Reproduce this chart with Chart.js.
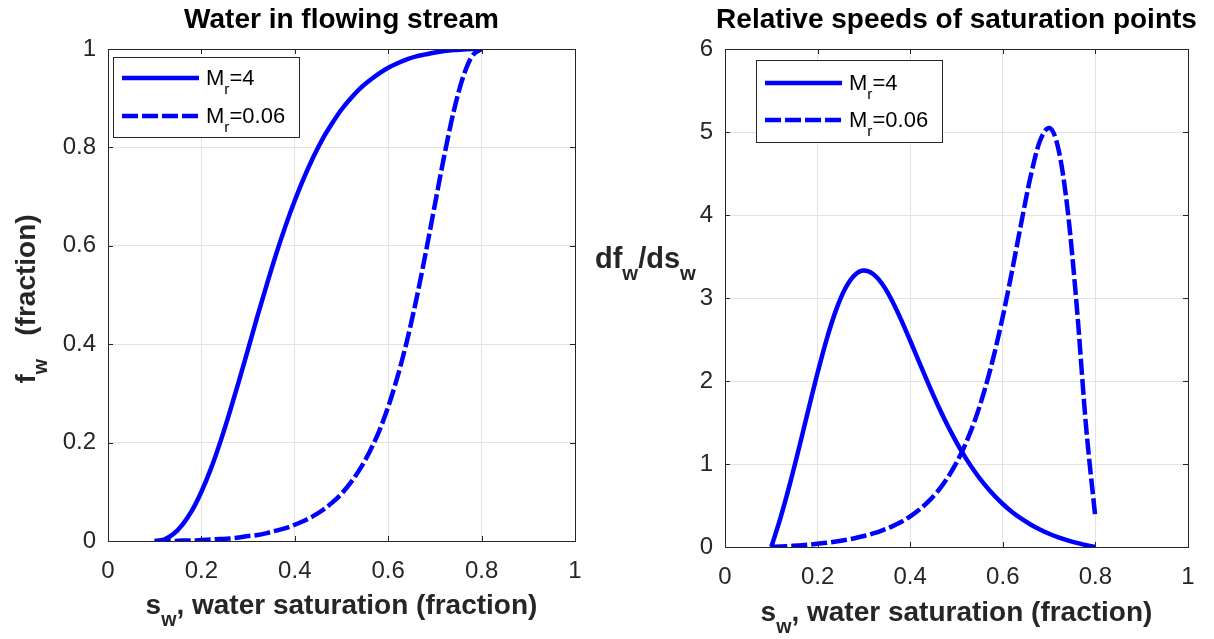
<!DOCTYPE html>
<html>
<head>
<meta charset="utf-8">
<script src="https://cdn.jsdelivr.net/npm/chart.js@4.4.0/dist/chart.umd.min.js"></script>
<style>
  body { margin: 0; background: #fff; width: 1214px; height: 639px; position: relative; overflow: hidden; }
  canvas { position: absolute; top: 0; }
  #leftChart { left: 0; }
  #rightChart { left: 580px; }
</style>
</head>
<body>
<canvas id="leftChart" width="600" height="639"></canvas>
<canvas id="rightChart" width="634" height="639"></canvas>
<script>
// water saturation samples (x values)
const swPoints = [0.10, 0.12, 0.14, 0.16, 0.18, 0.20, 0.22, 0.24, 0.26, 0.28,
                  0.30, 0.32, 0.34, 0.36, 0.38, 0.40, 0.42, 0.44, 0.46, 0.48,
                  0.50, 0.52, 0.54, 0.56, 0.58, 0.60, 0.62, 0.64, 0.66, 0.68,
                  0.70, 0.72, 0.74, 0.76, 0.78, 0.80];

// fractional flow
const fwMr4 = [0, 0.003, 0.014, 0.034, 0.062, 0.100, 0.146, 0.200, 0.260, 0.324,
               0.390, 0.457, 0.521, 0.583, 0.640, 0.692, 0.739, 0.781, 0.818, 0.849,
               0.877, 0.900, 0.920, 0.936, 0.950, 0.962, 0.971, 0.979, 0.985, 0.989,
               0.993, 0.996, 0.998, 0.999, 1.000, 1.000];
const fwMr006 = [0, 0, 0, 0.001, 0.001, 0.002, 0.003, 0.004, 0.005, 0.007,
                 0.010, 0.012, 0.016, 0.021, 0.026, 0.033, 0.041, 0.051, 0.063, 0.078,
                 0.096, 0.119, 0.147, 0.181, 0.222, 0.273, 0.334, 0.406, 0.490, 0.584,
                 0.684, 0.783, 0.872, 0.942, 0.986, 1.000];

// df/ds
const dfMr4 = [0, 0.354, 0.757, 1.196, 1.652, 2.100, 2.511, 2.857, 3.117, 3.276,
               3.331, 3.289, 3.165, 2.976, 2.743, 2.485, 2.219, 1.956, 1.705, 1.473,
               1.261, 1.071, 0.904, 0.757, 0.629, 0.518, 0.422, 0.341, 0.271, 0.211,
               0.160, 0.117, 0.080, 0.049, 0.022, 0];
const dfMr006 = [0, 0.005, 0.012, 0.019, 0.028, 0.039, 0.051, 0.066, 0.084, 0.106,
                 0.132, 0.163, 0.201, 0.246, 0.301, 0.369, 0.451, 0.552, 0.675, 0.828,
                 1.016, 1.248, 1.531, 1.877, 2.291, 2.777, 3.326, 3.908, 4.463, 4.888,
                 5.047, 4.799, 4.063, 2.883, 1.442, 0.350];

const seriesNames = ['4', '0.06'];
const xTicks = [0, 0.2, 0.4, 0.6, 0.8, 1];

const FONT = '"Liberation Sans", Arial, Helvetica, sans-serif';
const BLUE = '#0000ff';
const AXIS = '#262626';
const DASH = [16, 4];

function fontOf(size, bold) {
    return (bold ? 'bold ' : '') + size + 'px ' + FONT;
}

// matlab style tick text: 0, 0.2, ..., 1
function tickText(v) {
    return String(Number(v.toFixed(4)));
}

// draws text pieces, some as subscripts, starting at x (or centred on x)
function drawParts(ctx, parts, x, y, size, bold, center) {
    const widths = parts.map(p => {
        ctx.font = fontOf(p.sub ? size * 0.7 : size, bold);
        return ctx.measureText(p.t).width;
    });
    const total = widths.reduce((s, w) => s + w, 0);
    let cx = center ? x - total / 2 : x;
    ctx.textAlign = 'left';
    ctx.textBaseline = 'alphabetic';
    parts.forEach((p, i) => {
        ctx.font = fontOf(p.sub ? size * 0.7 : size, bold);
        ctx.fillText(p.t, cx, y + (p.sub ? size * 0.42 : 0));
        cx += widths[i];
    });
}

function framePlugin(cfg) {
    return {
        id: 'frame',
        afterDraw(chart) {
            const { ctx, chartArea: a } = chart;
            const xs = chart.scales.x, ys = chart.scales.y;
            ctx.save();
            ctx.strokeStyle = AXIS;
            ctx.lineWidth = 1;
            ctx.beginPath();
            xs.ticks.forEach(t => {
                const px = Math.round(xs.getPixelForValue(t.value)) + 0.5;
                ctx.moveTo(px, a.bottom); ctx.lineTo(px, a.bottom - 5);
                ctx.moveTo(px, a.top); ctx.lineTo(px, a.top + 5);
            });
            ys.ticks.forEach(t => {
                const py = Math.round(ys.getPixelForValue(t.value)) + 0.5;
                ctx.moveTo(a.left, py); ctx.lineTo(a.left + 5, py);
                ctx.moveTo(a.right, py); ctx.lineTo(a.right - 5, py);
            });
            ctx.stroke();
            ctx.strokeRect(Math.round(a.left) + 0.5, Math.round(a.top) + 0.5,
                           Math.round(a.right - a.left), Math.round(a.bottom - a.top));

            // legend
            const lx = a.left + cfg.legend.dx, ly = a.top + cfg.legend.dy;
            ctx.fillStyle = '#fff';
            ctx.fillRect(lx, ly, cfg.legend.w, cfg.legend.h);
            ctx.strokeRect(Math.round(lx) + 0.5, Math.round(ly) + 0.5, cfg.legend.w, cfg.legend.h);
            chart.data.datasets.forEach((ds, i) => {
                const rowY = ly + cfg.legend.rows[i];
                ctx.strokeStyle = BLUE;
                ctx.lineWidth = 4.5;
                ctx.setLineDash(ds.borderDash || []);
                ctx.beginPath();
                ctx.moveTo(lx + 9, rowY);
                ctx.lineTo(lx + 86, rowY);
                ctx.stroke();
                ctx.setLineDash([]);
                ctx.fillStyle = '#000';
                drawParts(ctx, [{ t: 'M' }, { t: 'r', sub: true }, { t: '=' + seriesNames[i] }],
                          lx + 93, rowY + 7, 22, false, false);
            });

            // title
            ctx.fillStyle = '#000';
            ctx.font = fontOf(28, true);
            ctx.textAlign = 'center';
            ctx.textBaseline = 'alphabetic';
            ctx.fillText(cfg.title, (a.left + a.right) / 2, cfg.titleY);

            // axis labels
            ctx.fillStyle = AXIS;
            drawParts(ctx, [{ t: 's' }, { t: 'w', sub: true }, { t: ', water saturation (fraction)' }],
                      (a.left + a.right) / 2, cfg.xLabelY, 28, true, true);
            if (cfg.rotatedY) {
                ctx.save();
                ctx.translate(cfg.yLabelX, (a.top + a.bottom) / 2 + 4);
                ctx.rotate(-Math.PI / 2);
                drawParts(ctx, cfg.yLabel, 0, 0, 28, true, true);
                ctx.restore();
            } else {
                drawParts(ctx, cfg.yLabel, cfg.yLabelX, cfg.yLabelY, 29, true, false);
            }
            ctx.restore();
        }
    };
}

function makeChart(id, curves, yMax, yStep, box, cfg) {
    const datasets = curves.map((vals, i) => ({
        label: 'Mr=' + seriesNames[i],
        data: swPoints.map((x, k) => ({ x: x, y: vals[k] })),
        borderColor: BLUE,
        borderWidth: 4.5,
        borderDash: i === 1 ? DASH : [],
        pointRadius: 0,
        cubicInterpolationMode: 'monotone',
        fill: false
    }));
    return new Chart(document.getElementById(id), {
        type: 'line',
        data: { datasets: datasets },
        options: {
            responsive: false,
            animation: false,
            devicePixelRatio: 1,
            layout: { padding: { left: 0, bottom: 0, top: box.top, right: box.right } },
            plugins: { legend: { display: false }, tooltip: { enabled: false }, title: { display: false } },
            scales: {
                x: {
                    type: 'linear', min: 0, max: 1,
                    afterBuildTicks: s => { s.ticks = xTicks.map(v => ({ value: v })); },
                    afterFit: s => { s.height = box.bottom; },
                    grid: { color: '#e3e3e3', drawTicks: false },
                    border: { display: false },
                    ticks: { color: AXIS, padding: 16, maxRotation: 0, autoSkip: false,
                             callback: tickText, font: { family: FONT, size: 24 } }
                },
                y: {
                    type: 'linear', min: 0, max: yMax,
                    ticks: { stepSize: yStep, color: AXIS, padding: 12, callback: tickText,
                             font: { family: FONT, size: 24 } },
                    afterFit: s => { s.width = box.left; },
                    grid: { color: '#e3e3e3', drawTicks: false },
                    border: { display: false }
                }
            }
        },
        plugins: [framePlugin(cfg)]
    });
}

makeChart('leftChart', [fwMr4, fwMr006], 1, 0.2,
    { left: 108, right: 25, top: 49, bottom: 98 },
    {
        title: 'Water in flowing stream', titleY: 28, xLabelY: 614,
        rotatedY: true, yLabelX: 35,
        yLabel: [{ t: 'f' }, { t: 'w', sub: true }, { t: '   (fraction)' }],
        legend: { dx: 5, dy: 8, w: 186, h: 80, rows: [21, 59] }
    });

makeChart('rightChart', [dfMr4, dfMr006], 6, 1,
    { left: 145, right: 26, top: 49, bottom: 92 },
    {
        title: 'Relative speeds of saturation points', titleY: 28, xLabelY: 621,
        rotatedY: false, yLabelX: 15, yLabelY: 268,
        yLabel: [{ t: 'df' }, { t: 'w', sub: true }, { t: '/ds' }, { t: 'w', sub: true }],
        legend: { dx: 31, dy: 11, w: 186, h: 82, rows: [23, 60] }
    });
</script>
</body>
</html>
